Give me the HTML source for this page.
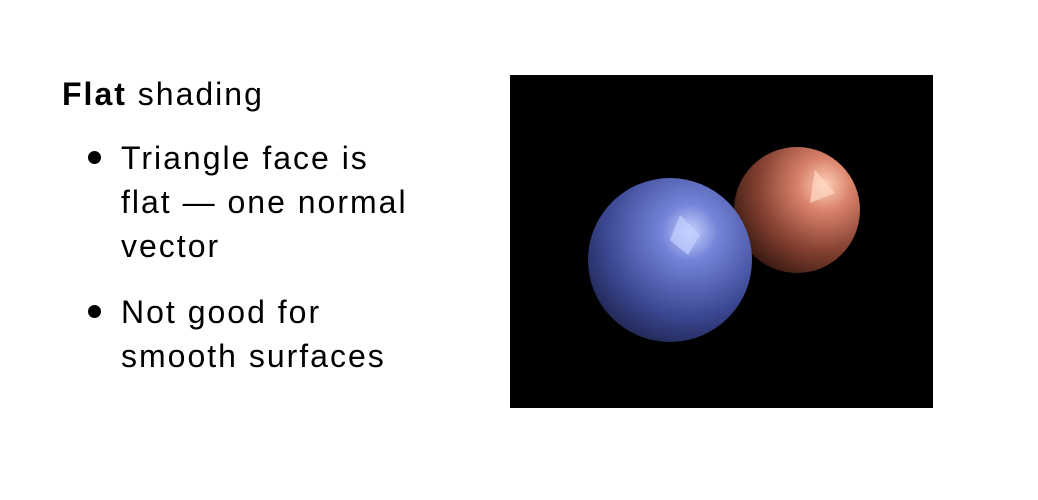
<!DOCTYPE html>
<html><head><meta charset="utf-8"><style>
html,body{margin:0;padding:0;width:1038px;height:500px;background:#fff;overflow:hidden;font-family:"Liberation Sans",sans-serif;}
.t{position:absolute;color:#000;font-size:32px;letter-spacing:2px;line-height:44px;white-space:nowrap;}
.dot{position:absolute;width:13px;height:13px;border-radius:50%;background:#000;}
</style></head><body>
<div class="t" style="left:62px;top:72px;"><b>Flat</b> shading</div>
<div class="dot" style="left:88px;top:151px;"></div>
<div class="t" style="left:121px;top:136px;">Triangle face is<br>flat — one normal<br>vector</div>
<div class="dot" style="left:88px;top:305px;"></div>
<div class="t" style="left:121px;top:290px;">Not good for<br>smooth surfaces</div>
<svg style="position:absolute;left:510px;top:75px;" width="423" height="333">
<defs>
<radialGradient id="o" cx="0.72" cy="0.3" r="0.85">
<stop offset="0" stop-color="#ffd0b8"/><stop offset="0.25" stop-color="#d9826a"/><stop offset="0.6" stop-color="#8a4434"/><stop offset="1" stop-color="#2a120c"/></radialGradient>
<radialGradient id="b" cx="0.62" cy="0.33" r="0.85">
<stop offset="0" stop-color="#c8d4ff"/><stop offset="0.2" stop-color="#7584d8"/><stop offset="0.6" stop-color="#3c4894"/><stop offset="1" stop-color="#10142c"/></radialGradient>
</defs>
<rect width="423" height="333" fill="#000"/>
<circle cx="287" cy="135" r="63" fill="url(#o)"/>
<polygon points="305,95 325,118 300,128" fill="#ffd9c4" opacity="0.7"/>
<circle cx="160" cy="185" r="82" fill="url(#b)"/>
<polygon points="170,140 190,160 178,180 160,165" fill="#c4d0ff" opacity="0.7"/>
</svg>
</body></html>
